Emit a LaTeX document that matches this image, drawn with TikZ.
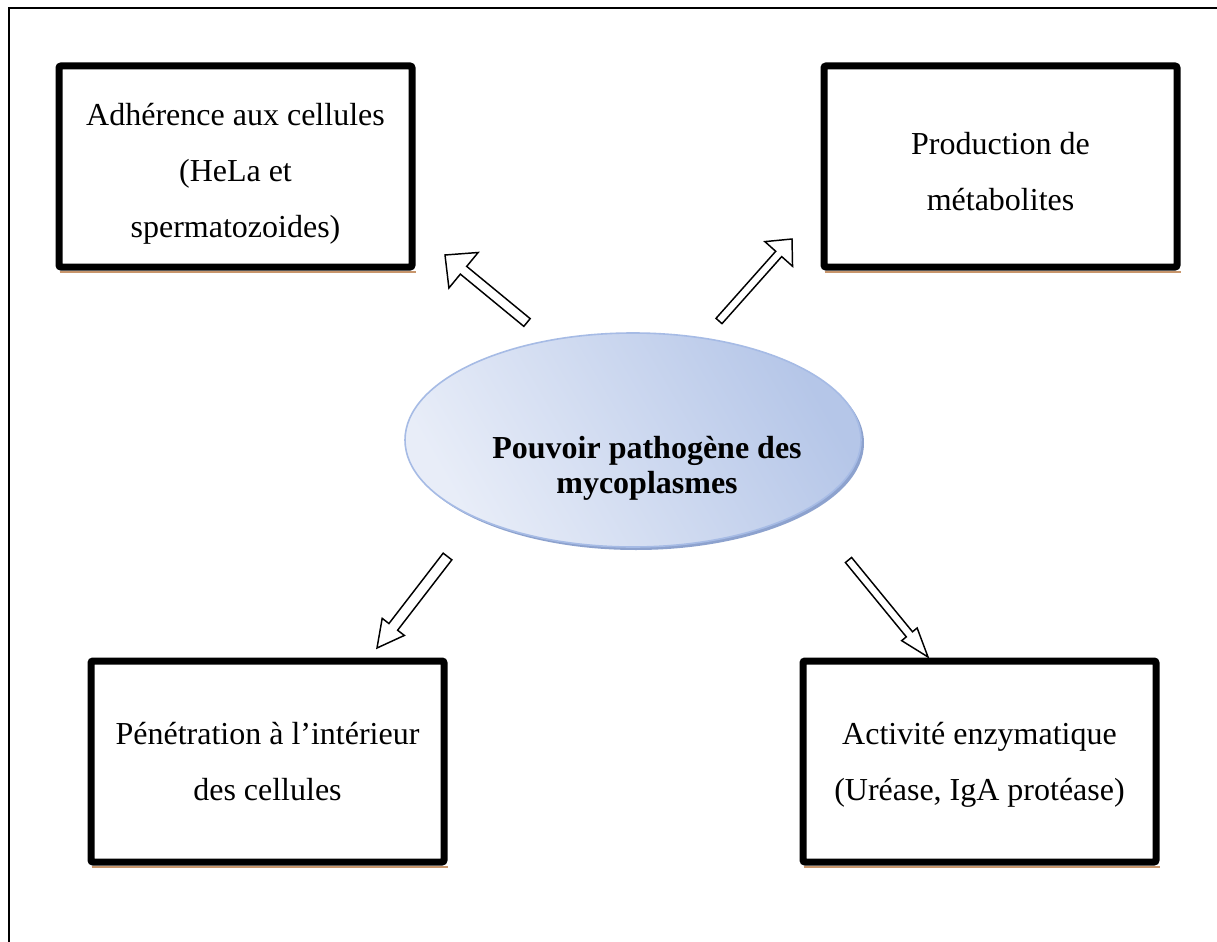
\documentclass[tikz,border=0pt]{standalone}
\usepackage{fontspec}
\setmainfont{Liberation Serif}
\usetikzlibrary{calc,shapes.geometric}
\definecolor{ellL}{HTML}{E8EDF8}
\definecolor{ellD}{HTML}{B5C6E8}
\definecolor{ellRim}{HTML}{A6BBE5}
\definecolor{ellShadow}{HTML}{8DA2CE}
\definecolor{boxShadow}{HTML}{C8966C}
\tikzset{
  frameline/.style={line width=1.1pt,black},
  boxstyle/.style={draw=black,fill=white,line width=5.25pt,rounded corners=1.5pt,
    minimum width=264.75pt,minimum height=150.75pt,inner sep=0pt},
  boxtext/.style={align=center,font=\fontsize{24pt}{42pt}\selectfont,inner sep=0pt},
  bshadow/.style={draw=boxShadow,line width=1.3pt},
  arrowout/.style={draw=black,fill=white,line width=1.1pt,line join=miter},
  elltext/.style={align=center,font=\bfseries\fontsize{24pt}{26.5pt}\selectfont,inner sep=0pt}
}
\newcommand{\blockarr}[5]{%
  \coordinate (ab) at ($(#2)!#5!(#1)$);
  \draw[arrowout] ($(#1)!#3!90:(#2)$) -- ($(ab)!#3!-90:(#1)$) -- ($(ab)!#4!-90:(#1)$) -- (#2)
    -- ($(ab)!#4!90:(#1)$) -- ($(ab)!#3!90:(#1)$) -- ($(#1)!#3!-90:(#2)$) -- cycle;}
\begin{document}
\begin{tikzpicture}[x=0.75pt,y=-0.75pt]
\useasboundingbox (0,0) rectangle (1217,942);
\fill[white] (0,0) rectangle (1217,942);
% outer frame (open right and bottom)
\draw[frameline] (9,942) -- (9,8) -- (1217,8);

% boxes
\node[boxstyle] (b1) at (235.5,166.5) {};
\node[boxstyle] (b2) at (1000.5,166.5) {};
\node[boxstyle] (b3) at (267.5,761.5) {};
\node[boxstyle] (b4) at (979.5,761.5) {};
\foreach \b in {b1,b2,b3,b4}{
  \draw[bshadow] ($(\b.south west)+(4,1.5)$) -- ($(\b.south east)+(0,1.5)$);
}
\node[boxtext] (b1t) at ($(b1)+(0,7)$) {Adhérence aux cellules\\(HeLa et\\spermatozoides)};
\node[boxtext] (b2t) at ($(b2)+(0,5)$) {Production de\\métabolites};
\node[boxtext] (b3t) at ($(b3)+(0,0)$) {Pénétration à l’intérieur\\des cellules};
\node[boxtext] (b4t) at ($(b4)+(0,3)$) {Activité enzymatique\\(Uréase, IgA protéase)};

% central ellipse
\node[ellipse,fill=ellShadow,minimum width=342pt,minimum height=160.5pt,inner sep=0pt] (es) at (636,443) {};
\node[ellipse,draw=ellRim,line width=1.2pt,left color=ellL,right color=ellD,shading angle=120,
  minimum width=342pt,minimum height=160.5pt,inner sep=0pt] (e) at (633,440) {};
\node[elltext] (et) at (647,468) {Pouvoir pathogène des\\mycoplasmes};

% arrows
\coordinate (t1) at (527,322.5); \coordinate (h1) at (445,255);
\coordinate (t2) at (719,321);   \coordinate (h2) at (792,239);
\coordinate (t3) at (447.5,556.5); \coordinate (h3) at (377,648);
\coordinate (t4) at (848.5,560); \coordinate (h4) at (928,657);
\blockarr{t1}{h1}{3.75pt}{17.25pt}{18pt}
\blockarr{t2}{h2}{3pt}{13.9pt}{15pt}
\blockarr{t3}{h3}{4.1pt}{10.5pt}{20pt}
\blockarr{t4}{h4}{3pt}{7.5pt}{22pt}
\end{tikzpicture}
\end{document}
